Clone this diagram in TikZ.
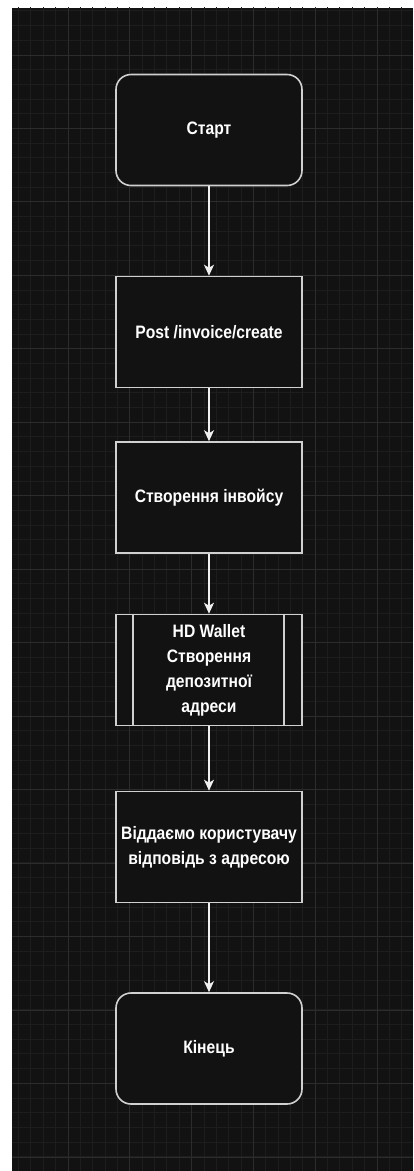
\documentclass[tikz,border=0pt]{standalone}
\usepackage{fontspec}
\setmainfont{Liberation Sans}[FakeStretch=0.87]
\usetikzlibrary{arrows.meta}
\definecolor{bg}{HTML}{121212}
\definecolor{gridminor}{HTML}{1D1D1D}
\definecolor{gridmajor}{HTML}{2C2C2C}
\definecolor{edge}{HTML}{D0D0D0}
\definecolor{arr}{HTML}{F0F0F0}
\tikzset{
  boxbase/.style={draw=edge, line width=1.6pt, fill=bg, minimum width=186pt, minimum height=111pt,
    text=white, align=center, font=\fontsize{18}{25}\selectfont\bfseries, inner sep=0pt},
  term/.style={boxbase, rounded corners=15pt},
  proc/.style={boxbase},
  flow/.style={draw=arr, line width=1.3pt, -{Stealth[length=11pt,width=10pt,inset=3pt]}}
}
\begin{document}
\begin{tikzpicture}[x=1pt,y=-1pt]
\useasboundingbox (0,0) rectangle (413,1171);
\fill[white] (0,0) rectangle (413,1171);
\fill[bg] (12,7.5) rectangle (413,1171);
\begin{scope}
\clip (12,7.5) rectangle (413,1171);
\foreach \i in {0,...,33} \draw[gridminor, line width=0.9pt] ({6.2+12.36*\i},0) -- ++(0,1171);
\foreach \i in {0,...,80} \draw[gridminor, line width=0.9pt] (0,{10.9+14.69*\i}) -- ++(413,0);
\foreach \i in {0,...,6} \draw[gridmajor, line width=1pt] ({6.2+61.8*\i},0) -- ++(0,1171);
\foreach \i in {0,...,16} \draw[gridmajor, line width=1pt] (0,{-18.47+73.47*\i}) -- ++(413,0);
\end{scope}
\node[term] (start) at (209,130) {Старт};
\node[proc] (post) at (209,332) {Post /invoice/create};
\node[proc] (inv) at (209,497.5) {Створення інвойсу};
\node[proc] (hd) at (209,670) {HD Wallet\\Створення\\депозитної\\адреси};
\draw[edge, line width=1.6pt] ([xshift=18pt]hd.north west) -- ([xshift=18pt]hd.south west);
\draw[edge, line width=1.6pt] ([xshift=-19pt]hd.north east) -- ([xshift=-19pt]hd.south east);
\node[proc] (resp) at (209,847) {Віддаємо користувачу\\відповідь з адресою};
\node[term] (fin) at (209,1048.5) {Кінець};
\draw[flow] (start) -- (post);
\draw[flow] (post) -- (inv);
\draw[flow] (inv) -- (hd);
\draw[flow] (hd) -- (resp);
\draw[flow] (resp) -- (fin);
\end{tikzpicture}
\end{document}
